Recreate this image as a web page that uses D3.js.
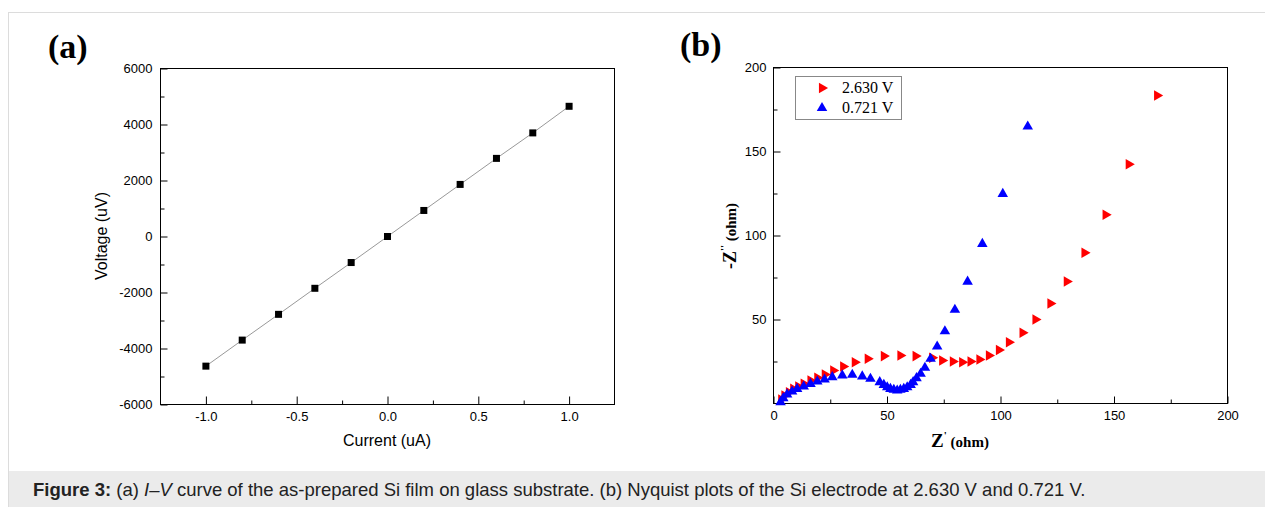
<!DOCTYPE html>
<meta charset="utf-8">
<style>
html, body { margin: 0; padding: 0; background: #fff; }
svg { display: block; }
.tick text { font-family: Arial, "Liberation Sans", sans-serif; font-size: 13px; fill: #000; }
.frame { fill: none; stroke: #000; stroke-width: 1; }
</style>
<div id="container"></div>
<script src="https://d3js.org/d3.v7.min.js"></script>
<script>

// panel (a): I-V curve
var ivCurrent = [-1.0, -0.8, -0.6, -0.4, -0.2, 0.0, 0.2, 0.4, 0.6, 0.8, 1.0];
var ivVoltage = [-4630, -3700, -2780, -1850, -930, 0, 930, 1860, 2790, 3700, 4650];
var ivXTicks = [-1.0, -0.5, 0.0, 0.5, 1.0];
var ivYTicks = [-6000, -4000, -2000, 0, 2000, 4000, 6000];

// panel (b): Nyquist plots
var red_re = [3.4, 4.8, 6.8, 8.7, 10.9, 13.3, 16.3, 19.3, 22.6, 26.3, 30.7, 35.8, 41.5, 48.6, 55.9, 62.6,
  69.9, 74.3, 79.0, 83.1, 86.8, 90.7, 94.9, 99.3, 103.7, 109.7, 115.4, 122.0, 129.2, 137.0, 146.3, 156.5, 169.0];
var red_im = [2.4, 4.8, 6.7, 8.7, 10.1, 11.7, 13.7, 15.3, 17.3, 19.6, 22.0, 24.6, 26.6, 28.2, 28.6, 28.2,
  27.2, 25.6, 25.0, 24.6, 25.0, 26.2, 28.6, 31.9, 36.5, 42.1, 50.0, 59.5, 72.6, 89.7, 112.3, 142.4, 183.3];
var blue_re = [3.1, 4.3, 6.0, 8.2, 10.4, 13.3, 16.3, 19.3, 22.5, 25.9, 30.3, 34.7, 39.1, 42.7, 46.8, 48.6,
  50.1, 51.5, 53.0, 54.5, 55.9, 57.4, 58.9, 60.4, 61.5, 63.0, 64.8, 66.7, 69.2, 72.1, 75.5, 79.9,
  85.5, 92.0, 101.0, 112.0];
var blue_im = [0.8, 3.2, 5.4, 7.1, 8.7, 10.1, 11.7, 13.1, 14.3, 15.7, 16.7, 17.1, 16.1, 14.7, 12.7, 11.1,
  9.7, 8.7, 8.2, 7.7, 8.2, 8.7, 9.7, 11.1, 12.7, 15.1, 17.7, 21.3, 26.6, 33.9, 43.0, 55.8,
  72.5, 95.0, 124.8, 164.9];
var nyqTicks = [0, 50, 100, 150, 200];
var nyqMinor = [25, 75, 125, 175];
var legendLabels = ["2.630 V", "0.721 V"];

var W = 1265, H = 507;
var svg = d3.select("#container").append("svg").attr("width", W).attr("height", H);

// outer frame and caption strip
svg.append("line").attr("x1", 8).attr("x2", W).attr("y1", 12.5).attr("y2", 12.5).attr("stroke", "#dcdcdc");
svg.append("line").attr("x1", 8.5).attr("x2", 8.5).attr("y1", 12).attr("y2", H).attr("stroke", "#dcdcdc");
svg.append("rect").attr("x", 9).attr("y", 471).attr("width", W - 9).attr("height", H - 471).attr("fill", "#ebebeb");

var cap = svg.append("text").attr("x", 33).attr("y", 496)
  .style("font-family", "Arial, 'Liberation Sans', sans-serif").style("font-size", "18.5px").attr("fill", "#222");
cap.append("tspan").attr("font-weight", "bold").text("Figure 3:");
cap.append("tspan").text(" (a) ");
cap.append("tspan").attr("font-style", "italic").text("I–V");
cap.append("tspan").text(" curve of the as-prepared Si film on glass substrate. (b) Nyquist plots of the Si electrode at 2.630 V and 0.721 V.");

// ---------- panel (a) ----------
var xa = d3.scaleLinear().domain([-1.25, 1.25]).range([160.5, 614.5]);
var ya = d3.scaleLinear().domain([-6000, 6000]).range([404.5, 68.5]);

svg.append("text").attr("x", 48).attr("y", 58)
  .style("font-family", "'Liberation Serif', 'DejaVu Serif', serif").style("font-size", "34px")
  .attr("font-weight", "bold").text("(a)");

var ga = svg.append("g");
ga.append("g").attr("transform", "translate(0,404.5)")
  .call(d3.axisBottom(xa).tickValues(ivXTicks).tickSizeInner(-8).tickSizeOuter(0).tickPadding(7).tickFormat(d => d.toFixed(1)))
  .call(g => g.select(".domain").remove());
ga.append("g").attr("transform", "translate(0,404.5)")
  .call(d3.axisBottom(xa).tickValues([-0.75, -0.25, 0.25, 0.75]).tickSizeInner(-4).tickSizeOuter(0).tickFormat(""))
  .call(g => g.select(".domain").remove());
ga.append("g").attr("transform", "translate(160.5,0)")
  .call(d3.axisLeft(ya).tickValues(ivYTicks).tickSizeInner(-7).tickSizeOuter(0).tickPadding(8).tickFormat(d => String(d)))
  .call(g => g.select(".domain").remove());
ga.append("g").attr("transform", "translate(160.5,0)")
  .call(d3.axisLeft(ya).tickValues([-5000, -3000, -1000, 1000, 3000, 5000]).tickSizeInner(-4).tickSizeOuter(0).tickFormat(""))
  .call(g => g.select(".domain").remove());
ga.append("rect").attr("class", "frame").attr("x", 160.5).attr("y", 68.5).attr("width", 454).attr("height", 336);

ga.append("path")
  .datum(ivCurrent.map((c, i) => [c, ivVoltage[i]]))
  .attr("fill", "none").attr("stroke", "#999").attr("stroke-width", 1)
  .attr("d", d3.line().x(d => xa(d[0])).y(d => ya(d[1])));
ga.selectAll("rect.pt").data(ivCurrent).enter().append("rect").attr("class", "pt")
  .attr("x", (d) => xa(d) - 3.5).attr("y", (d, i) => ya(ivVoltage[i]) - 3.5)
  .attr("width", 7).attr("height", 7).attr("fill", "#000");

ga.append("text").attr("x", 387).attr("y", 446).attr("text-anchor", "middle")
  .style("font-family", "Arial, 'Liberation Sans', sans-serif").style("font-size", "16px").text("Current (uA)");
ga.append("text").attr("transform", "translate(107,236) rotate(-90)").attr("text-anchor", "middle")
  .style("font-family", "Arial, 'Liberation Sans', sans-serif").style("font-size", "16px").text("Voltage (uV)");

// ---------- panel (b) ----------
var xb = d3.scaleLinear().domain([0, 200]).range([773.5, 1227.5]);
var yb = d3.scaleLinear().domain([0, 200]).range([403.5, 67.5]);

svg.append("text").attr("x", 680).attr("y", 56)
  .style("font-family", "'Liberation Serif', 'DejaVu Serif', serif").style("font-size", "34px")
  .attr("font-weight", "bold").text("(b)");

var gb = svg.append("g");
gb.append("g").attr("transform", "translate(0,403.5)")
  .call(d3.axisBottom(xb).tickValues(nyqTicks).tickSizeInner(-7).tickSizeOuter(0).tickPadding(7))
  .call(g => g.select(".domain").remove());
gb.append("g").attr("transform", "translate(0,403.5)")
  .call(d3.axisBottom(xb).tickValues(nyqMinor).tickSizeInner(-4).tickSizeOuter(0).tickFormat(""))
  .call(g => g.select(".domain").remove());
gb.append("g").attr("transform", "translate(773.5,0)")
  .call(d3.axisLeft(yb).tickValues(nyqTicks.slice(1)).tickSizeInner(-7).tickSizeOuter(0).tickPadding(7))
  .call(g => g.select(".domain").remove());
gb.append("g").attr("transform", "translate(773.5,0)")
  .call(d3.axisLeft(yb).tickValues(nyqMinor).tickSizeInner(-4).tickSizeOuter(0).tickFormat(""))
  .call(g => g.select(".domain").remove());
gb.append("rect").attr("class", "frame").attr("x", 773.5).attr("y", 67.5).attr("width", 454).attr("height", 336);

var tri = d3.symbol().type(d3.symbolTriangle).size(48);

gb.selectAll("path.red").data(red_re).enter().append("path").attr("class", "red")
  .attr("d", tri).attr("fill", "#ff0000")
  .attr("transform", (d, i) => "translate(" + xb(d) + "," + yb(red_im[i]) + ") rotate(90)");
gb.selectAll("path.blue").data(blue_re).enter().append("path").attr("class", "blue")
  .attr("d", tri).attr("fill", "#0000ff")
  .attr("transform", (d, i) => "translate(" + xb(d) + "," + yb(blue_im[i]) + ")");

// legend
var lg = gb.append("g");
lg.append("rect").attr("x", 795.5).attr("y", 76.5).attr("width", 106).attr("height", 43)
  .attr("fill", "#fff").attr("stroke", "#888");
legendLabels.forEach(function(t, i) {
  var cy = 88 + i * 20;
  lg.append("path").attr("d", tri).attr("fill", i === 0 ? "#ff0000" : "#0000ff")
    .attr("transform", "translate(822," + cy + ")" + (i === 0 ? " rotate(90)" : ""));
  lg.append("text").attr("x", 842).attr("y", cy + 5)
    .style("font-family", "'Liberation Serif', 'DejaVu Serif', serif").style("font-size", "16px").text(t);
});

// axis titles
var xt = gb.append("text").attr("x", 960).attr("y", 447).attr("text-anchor", "middle")
  .style("font-family", "'Liberation Serif', 'DejaVu Serif', serif").attr("font-weight", "bold");
xt.append("tspan").style("font-size", "19px").text("Z");
xt.append("tspan").style("font-size", "11px").attr("dy", -8).text("'");
xt.append("tspan").style("font-size", "15px").attr("dy", 8).text(" (ohm)");

var yt = gb.append("text").attr("transform", "translate(736,236) rotate(-90)").attr("text-anchor", "middle")
  .style("font-family", "'Liberation Serif', 'DejaVu Serif', serif").attr("font-weight", "bold");
yt.append("tspan").style("font-size", "18px").text("-Z");
yt.append("tspan").style("font-size", "11px").attr("dy", -8).text("''");
yt.append("tspan").style("font-size", "15px").attr("dy", 8).text(" (ohm)");

</script>
